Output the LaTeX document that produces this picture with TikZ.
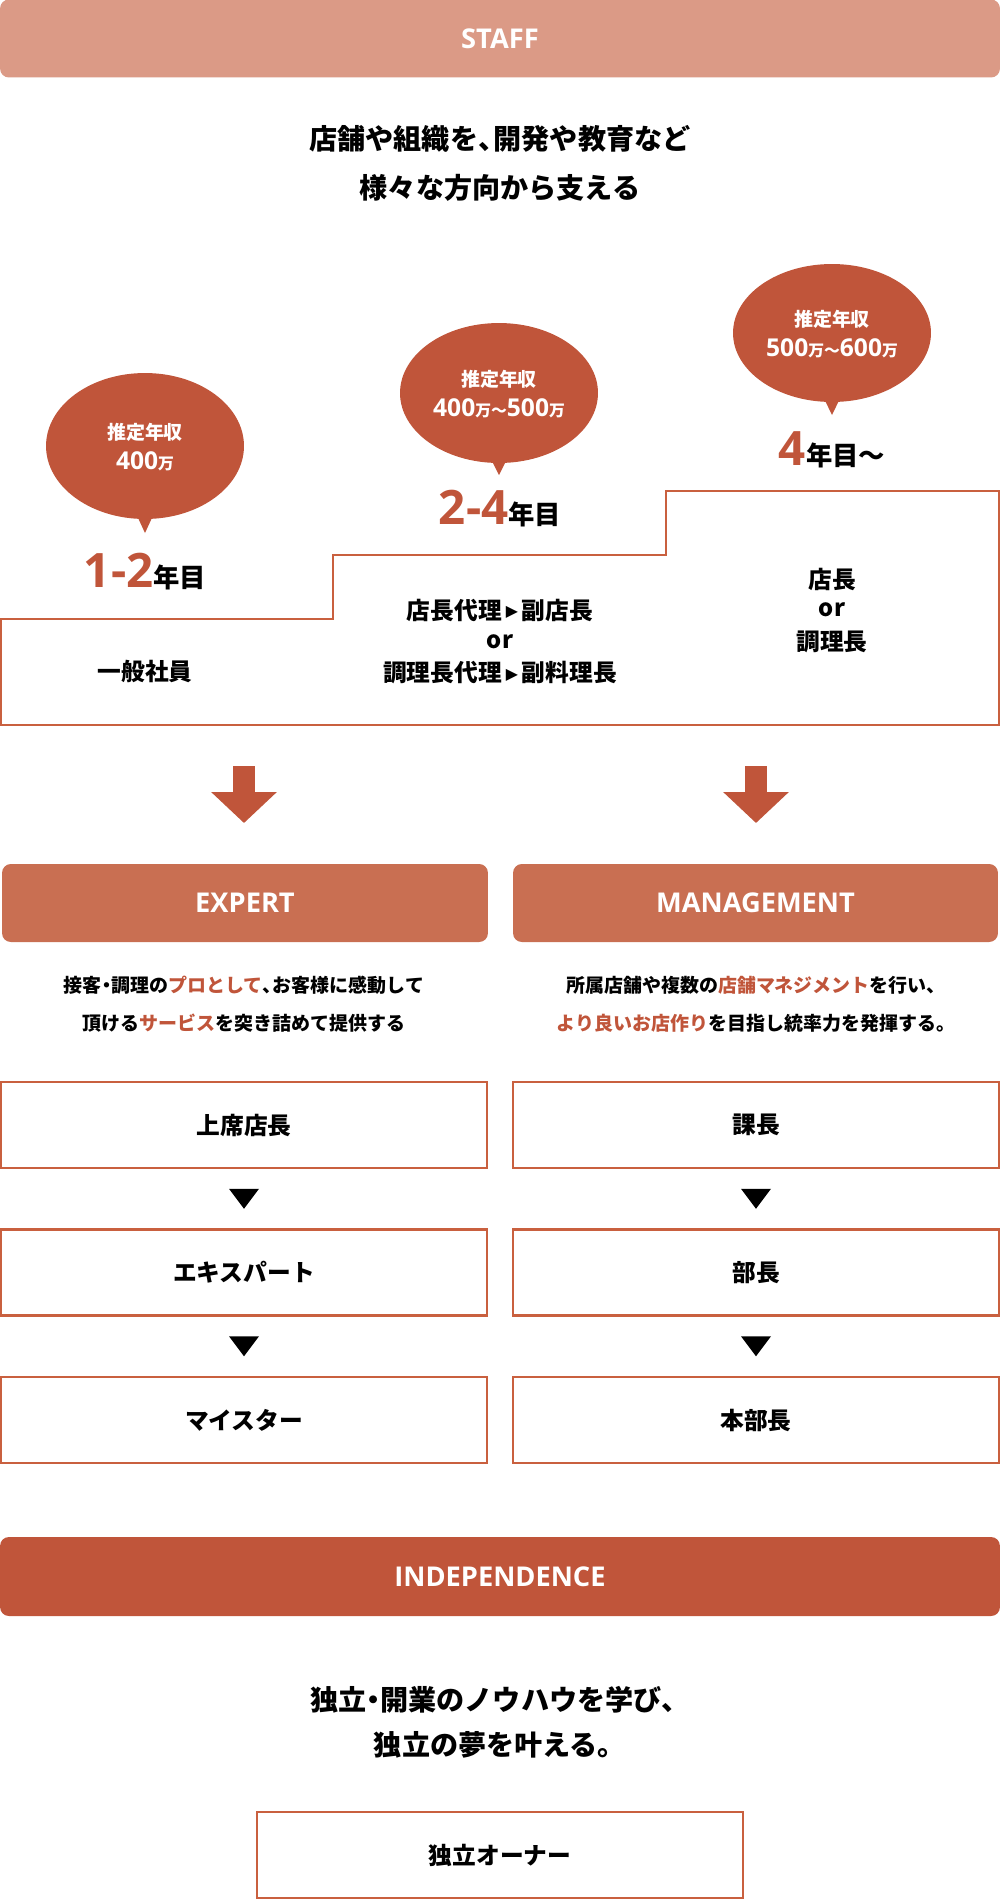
\documentclass[tikz,border=0pt]{standalone}
\usepackage{fontspec}
\setmainfont{Noto Sans CJK JP}
\newfontfamily\latfont{Open Sans}
\newfontfamily\symfont{DejaVu Sans}
\usepackage{tikz}
\usetikzlibrary{positioning,calc,shapes.geometric,arrows.meta}
\definecolor{CareerStaff}{HTML}{DB9A86}
\definecolor{CareerMid}{HTML}{C96F52}
\definecolor{CareerAccent}{HTML}{C0553A}
\definecolor{CareerLine}{HTML}{C9603F}
\newcommand{\tightdot}{\kern-0.25em・\kern-0.25em}
\newcommand{\tightcomma}{、\kern-0.45em}
\newcommand{\steparrow}{\,\raisebox{1.2pt}{\symfont\fontsize{9}{10}\selectfont ▶}\,}

\begin{document}
\begin{tikzpicture}[x=0.02cm,y=-0.02cm,
  headbar/.style={rounded corners=5pt, text=white, inner sep=0pt,
    font=\latfont\bfseries\fontsize{15.5}{18}\selectfont, minimum height=1.56cm},
  lead/.style={font=\bfseries\fontsize{16}{18}\selectfont},
  desc/.style={font=\bfseries\fontsize{10.8}{12}\selectfont},
  rolebox/.style={draw=CareerLine, line width=1.2pt, minimum width=9.72cm,
    minimum height=1.72cm, font=\bfseries\fontsize{13.5}{16}\selectfont},
  stagetext/.style={font=\bfseries\fontsize{13.5}{16}\selectfont},
  salary/.style={ellipse, fill=CareerAccent, inner sep=0pt, minimum width=3.96cm},
  saltext/.style={text=white, font=\bfseries\fontsize{10.8}{12}\selectfont},
  salvalue/.style={text=white, font=\bfseries},
  yeartext/.style={anchor=base, font=\bfseries\fontsize{15}{18}\selectfont},
  bigarrow/.style={CareerAccent, line width=12.5pt, -{Triangle[length=17.6pt,width=36.3pt]}}
]
\useasboundingbox (0,0) rectangle (1000,1900);

% staff header
\node[headbar, fill=CareerStaff, minimum width=20cm] (staff) at (500,38.5) {STAFF};
\node[lead] (lead1) at (500,139) {店舗や組織を\tightcomma 開発や教育など};
\node[lead] (lead2) at (500,188) {様々な方向から支える};

% salary bubbles
\foreach \n/\x/\y/\h/\tip/\val in {
    1/145/446/2.92/533/{\latfont\fontsize{14}{16}\selectfont 400}{\fontsize{9}{10}\selectfont 万},
    2/499/393/2.80/475/{\latfont\fontsize{14}{16}\selectfont 400}{\fontsize{9}{10}\selectfont 万〜}{\latfont\fontsize{14}{16}\selectfont 500}{\fontsize{9}{10}\selectfont 万},
    3/832/333/2.76/415/{\latfont\fontsize{14}{16}\selectfont 500}{\fontsize{9}{10}\selectfont 万〜}{\latfont\fontsize{14}{16}\selectfont 600}{\fontsize{9}{10}\selectfont 万}} {
  \node[salary, minimum height=\h cm] (sal\n) at (\x,\y) {};
  \coordinate (sal\n tip) at (\x,\tip);
  \fill[CareerAccent] ($(sal\n.south)+(-10,-8)$) -- (sal\n tip) -- ($(sal\n.south)+(10,-8)$) -- cycle;
  \node[saltext] (sal\n a) at ($(sal\n.center)+(0,-14)$) {推定年収};
  \node[salvalue] (sal\n b) at ($(sal\n.center)+(0,15)$) {\val};
}

% years
\node[yeartext] (year1) at (145,587) {\textcolor{CareerAccent}{\latfont\fontsize{27}{30}\selectfont 1-2}年目};
\node[yeartext] (year2) at (500,524) {\textcolor{CareerAccent}{\latfont\fontsize{27}{30}\selectfont 2-4}年目};
\node[yeartext] (year3) at (832,465) {\textcolor{CareerAccent}{\latfont\fontsize{27}{30}\selectfont 4}年目〜};

% staircase
\draw[CareerLine, line width=1.2pt] (1,619) -- (333,619) -- (333,555) -- (666,555)
  -- (666,491) -- (999,491) -- (999,725) -- (1,725) -- cycle;
\node[stagetext] (stage1) at (145,671) {一般社員};
\node[stagetext] (stage2a) at (500,610) {店長代理\steparrow 副店長};
\node[stagetext] (stage2b) at (500,642) {or};
\node[stagetext] (stage2c) at (500,673) {調理長代理\steparrow 副料理長};
\node[stagetext] (stage3a) at (832,579) {店長};
\node[stagetext] (stage3b) at (832,610) {or};
\node[stagetext] (stage3c) at (832,642) {調理長};

% arrows down to the two tracks
\coordinate (arrLtop) at (244,766);
\coordinate (arrLtip) at (244,823);
\coordinate (arrRtop) at (756,766);
\coordinate (arrRtip) at (756,823);
\draw[bigarrow] (arrLtop) -- (arrLtip);
\draw[bigarrow] (arrRtop) -- (arrRtip);

% tracks
\node[headbar, fill=CareerMid, minimum width=9.72cm] (expert) at (245,903) {EXPERT};
\node[headbar, fill=CareerMid, minimum width=9.70cm] (manage) at (755.5,903) {MANAGEMENT};
\node[desc] (expdesc1) at (244,985) {接客\tightdot 調理の\textcolor{CareerAccent}{プロとして}\tightcomma お客様に感動して};
\node[desc] (expdesc2) at (244,1023) {頂ける\textcolor{CareerAccent}{サービス}を突き詰めて提供する};
\node[desc] (mandesc1) at (756,985) {所属店舗や複数の\textcolor{CareerAccent}{店舗マネジメント}を行い、};
\node[desc] (mandesc2) at (756,1023) {\textcolor{CareerAccent}{より良いお店作り}を目指し統率力を発揮する。};

\node[rolebox] (exp1) at (244,1125) {上席店長};
\node[rolebox] (exp2) at (244,1272.5) {エキスパート};
\node[rolebox] (exp3) at (244,1420) {マイスター};
\node[rolebox] (man1) at (756,1125) {課長};
\node[rolebox] (man2) at (756,1272.5) {部長};
\node[rolebox] (man3) at (756,1420) {本部長};
\foreach \a/\b in {exp1/exp2, exp2/exp3, man1/man2, man2/man3} {
  \coordinate (\a mid) at ($(\a.south)!0.5!(\b.north)$);
  \fill[black] (\a mid) ++(-15,-10) -- ++(30,0) -- ++(-15,20) -- cycle;
}

% independence
\node[headbar, fill=CareerAccent, minimum width=20cm, minimum height=1.58cm] (indep) at (500,1576.5) {INDEPENDENCE};
\node[lead] (indlead1) at (500,1700) {独立\tightdot 開業のノウハウを学び、};
\node[lead] (indlead2) at (500,1745) {独立の夢を叶える。};
\node[rolebox] (owner) at (500,1855) {独立オーナー};
\end{tikzpicture}
\end{document}
